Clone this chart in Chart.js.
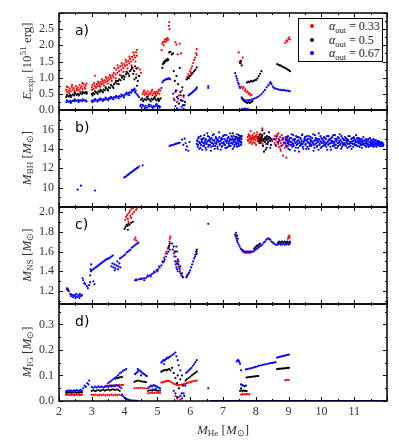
<!DOCTYPE html>
<html>
<head>
<meta charset="utf-8">
<script src="https://cdn.jsdelivr.net/npm/chart.js@4/dist/chart.umd.min.js"></script>
<style>
  body { margin: 0; background: #fff; }
  #wrap { position: relative; width: 399px; height: 446px; }
  #wrap canvas { position: absolute; left: 0; top: 0; }
  .txt { position: absolute; font-family: 'Liberation Serif', serif; color: #333; white-space: nowrap; line-height: 1; }
  .txt sub { font-size: 0.7em; vertical-align: -0.3em; line-height: 0; }
  .txt sup { font-size: 0.7em; vertical-align: 0.45em; line-height: 0; }
  .ytitle { font-size: 13px; transform: translate(-50%, -50%) rotate(-90deg); }
  .plabel { position: absolute; font-family: 'DejaVu Sans', sans-serif; font-size: 14px; color: #000; line-height: 1; }
  #legend { position: absolute; left: 298px; top: 18px; width: 83px; height: 42px; border: 1.5px solid #000; background: #fff; }
  .dot { position: absolute; width: 4px; height: 4px; border-radius: 50%; }
  .ltxt { position: absolute; font-size: 12px; color: #222; transform: translateY(-50%); }
</style>
</head>
<body>
<div id="wrap">
  <canvas id="chartA" width="399" height="446"></canvas>
  <canvas id="chartB" width="399" height="446"></canvas>
  <canvas id="chartC" width="399" height="446"></canvas>
  <canvas id="chartD" width="399" height="446"></canvas>
</div>
<script>
// ---- values ----
const seriesLabels = ['0.33', '0.5', '0.67'];
const seriesColors = ['#ff0000', '#000000', '#0000ff'];

const xTicks = [2, 3, 4, 5, 6, 7, 8, 9, 10, 11];
const aTicks = [0, 0.5, 1.0, 1.5, 2.0, 2.5];
const bTicks = [10, 12, 14, 16];
const cTicks = [1.2, 1.4, 1.6, 1.8, 2.0];
const dTicks = [0, 0.1, 0.2, 0.3];

// panel a) E_expl
const aRed = [
  [2.22,0.62],[2.25,0.55],[2.27,0.7],[2.3,0.6],[2.33,0.66],[2.36,0.58],[2.39,0.72],[2.42,0.63],[2.45,0.68],[2.48,0.6],[2.51,0.74],[2.54,0.66],[2.57,0.7],[2.6,0.63],[2.63,0.77],[2.66,0.68],[2.69,0.73],[2.72,0.65],[2.75,0.8],[2.78,0.7],[2.81,0.76],[2.84,0.82],
  [2.24,0.72],[2.31,0.52],[2.4,0.78],[2.47,0.55],[2.56,0.6],[2.64,0.58],[2.71,0.84],[2.8,0.66],
  [3.0,0.7],[3.02,0.78],[3.05,0.66],[3.08,0.75],[3.1,1.06],[3.12,0.72],[3.15,0.8],[3.18,0.74],[3.21,0.83],[3.24,0.78],[3.27,0.86],[3.3,0.8],[3.33,0.9],[3.36,0.84],[3.39,0.92],[3.42,0.86],[3.45,0.96],[3.48,0.9],[3.51,1.0],[3.54,0.94],[3.57,1.03],[3.6,0.98],[3.63,1.08],[3.66,1.02],[3.69,1.3],[3.72,1.1],[3.75,1.25],[3.78,1.15],[3.81,1.3],[3.84,1.2],[3.87,1.35],[3.9,1.25],[3.93,1.38],[3.96,1.3],[3.99,1.42],[4.02,1.36],[4.05,1.48],[4.08,1.4],[4.11,1.52],[4.14,1.45],[4.17,1.58],[4.2,1.5],[4.23,1.64],[4.26,1.56],[4.29,1.7],[4.32,1.62],[4.35,1.78],[4.38,1.86],[4.3,1.2],[4.36,1.1],[4.4,1.3],[4.44,1.05],[4.47,1.25],[4.5,1.15],
  [3.01,0.62],[3.07,0.83],[3.13,0.68],[3.19,0.88],[3.25,0.72],[3.31,0.95],[3.37,0.76],[3.43,1.02],[3.49,0.82],[3.55,1.08],[3.61,0.9],[3.67,1.15],[3.73,0.98],[3.79,1.38],[3.85,1.08],[3.91,1.45],[3.97,1.18],[4.03,1.55],[4.09,1.28],[4.15,1.65],[4.21,1.38],[4.27,1.78],[4.33,1.5],[4.37,1.68],
  [4.55,0.5],[4.58,0.56],[4.61,0.47],[4.64,0.53],[4.67,0.5],[4.7,0.58],[4.73,0.48],[4.76,0.54],[4.79,0.5],[4.82,0.57],[4.85,0.46],[4.88,0.52],[4.91,0.55],[4.94,0.49],[4.97,0.56],[5.0,0.52],[5.03,0.58],[5.06,0.5],[5.09,0.6],
  [4.6,0.6],[4.72,0.43],[4.84,0.62],[4.96,0.45],[5.05,0.63],
  [5.13,1.85],[5.15,2.05],[5.17,2.1],[5.19,2.0],[5.21,2.12],[5.23,2.18],[5.25,2.1],[5.27,2.2],[5.29,2.15],[5.31,2.22],[5.33,2.17],[5.35,2.6],[5.36,2.72],[5.37,2.5],
  [5.55,2.1],[5.58,2.02],[5.62,1.72],[5.5,0.35],[5.55,0.55],[5.6,0.25],[5.65,0.45],[5.7,0.3],[5.75,0.6],[5.8,0.4],[5.72,1.75],[5.68,2.05],
  [5.88,0.95],[5.91,1.02],[5.94,1.1],[5.97,1.05],[6.0,1.2],[6.03,1.28],[6.06,1.35],[6.09,1.45],[6.12,1.55],[6.15,1.62],[6.18,1.75],[6.2,1.88],[6.2,1.7],[6.02,1.15],
  [7.48,1.78],[7.5,1.5],[7.6,1.62],[7.55,1.45],[7.57,0.72],[7.6,0.66],[7.63,0.7],[7.66,0.6],[7.69,0.64],[7.72,0.55],[7.75,0.58],[7.78,0.5],[7.81,0.52],[7.84,0.45],[7.87,0.47],
  [8.9,2.08],[8.93,2.15],[8.96,2.12],[8.99,2.2],[9.02,2.25],[9.04,2.18]
];
const aBlack = [
  [2.22,0.4],[2.26,0.44],[2.3,0.42],[2.34,0.46],[2.38,0.44],[2.42,0.48],[2.46,0.45],[2.5,0.5],[2.54,0.47],[2.58,0.5],[2.62,0.48],[2.66,0.52],[2.7,0.5],[2.74,0.54],[2.78,0.52],[2.82,0.56],[2.85,0.54],
  [2.24,0.47],[2.36,0.4],[2.48,0.53],[2.6,0.45],[2.72,0.57],[2.84,0.5],
  [3.0,0.5],[3.04,0.52],[3.08,0.49],[3.12,0.55],[3.16,0.53],[3.2,0.58],[3.24,0.56],[3.28,0.6],[3.32,0.58],[3.36,0.63],[3.4,0.61],[3.44,0.67],[3.48,0.64],[3.52,0.7],[3.56,0.68],[3.6,0.75],[3.64,0.72],[3.68,0.8],[3.72,0.85],[3.76,0.82],[3.8,0.9],[3.84,0.95],[3.88,0.92],[3.92,1.0],[3.96,1.05],[4.0,1.02],[4.04,1.1],[4.08,1.15],[4.12,1.12],[4.16,1.2],[4.2,1.25],[4.24,1.3],[4.28,1.22],[4.32,1.35],[4.36,1.28],[4.3,0.95],[4.35,1.0],[4.4,0.9],[4.44,1.05],[4.38,0.75],
  [3.02,0.45],[3.1,0.58],[3.18,0.5],[3.26,0.63],[3.34,0.55],[3.42,0.7],[3.5,0.6],[3.58,0.78],[3.66,0.68],[3.74,0.9],[3.82,0.8],[3.9,1.06],[3.98,0.95],[4.06,1.18],[4.14,1.05],[4.22,1.32],[4.26,1.12],
  [4.5,0.32],[4.54,0.36],[4.58,0.3],[4.62,0.34],[4.66,0.31],[4.7,0.36],[4.74,0.33],[4.78,0.3],[4.82,0.35],[4.86,0.32],[4.9,0.37],[4.94,0.33],[4.98,0.3],[5.02,0.35],[5.06,0.32],[5.1,0.36],
  [4.56,0.27],[4.68,0.4],[4.8,0.27],[4.92,0.4],[5.04,0.28],
  [5.15,1.3],[5.17,1.42],[5.19,1.48],[5.21,1.45],[5.23,1.52],[5.25,1.5],[5.27,1.55],[5.29,1.52],[5.31,1.58],[5.33,1.55],[5.36,1.78],[5.4,1.8],[5.44,1.72],[5.48,1.75],
  [5.5,1.2],[5.53,0.9],[5.56,0.6],[5.58,1.05],[5.6,0.4],[5.63,0.8],[5.66,0.2],[5.68,1.3],[5.7,0.55],[5.73,0.3],[5.76,0.7],[5.78,0.15],[5.8,0.45],[5.84,0.25],
  [5.9,0.95],[5.93,1.0],[5.96,0.98],[6.0,1.05],[6.04,1.1],[6.08,1.15],[6.12,1.2],[6.16,1.25],[6.2,1.32],
  [7.52,1.45],[7.55,1.52],[7.57,1.38],
  [7.58,0.35],[7.62,0.3],[7.66,0.26],[7.7,0.24],[7.74,0.22],[7.78,0.24],[7.82,0.22],[7.86,0.25],[7.9,0.27],
  [7.73,0.85],[7.77,0.88],[7.81,0.86],[7.85,0.9],[7.89,0.88],[7.93,0.9],[7.97,0.92],[8.01,0.93],[8.05,0.98],[8.09,1.05],[8.13,1.12],[8.17,1.2],
  [8.65,1.42],[8.69,1.4],[8.73,1.38],[8.77,1.37],[8.81,1.34],[8.85,1.32],[8.89,1.3],[8.93,1.28],[8.97,1.25],[9.01,1.23],[9.04,1.2]
];
const aBlue = [
  [2.22,0.24],[2.26,0.27],[2.3,0.25],[2.34,0.28],[2.38,0.26],[2.42,0.29],[2.46,0.27],[2.5,0.3],[2.54,0.28],[2.58,0.31],[2.62,0.29],[2.66,0.3],[2.7,0.27],[2.74,0.31],[2.78,0.29],[2.82,0.3],
  [2.24,0.3],[2.36,0.22],[2.48,0.33],[2.6,0.25],[2.72,0.33],[2.84,0.26],
  [3.0,0.28],[3.04,0.3],[3.08,0.27],[3.12,0.31],[3.16,0.29],[3.2,0.32],[3.24,0.3],[3.28,0.33],[3.32,0.31],[3.36,0.34],[3.4,0.32],[3.44,0.35],[3.48,0.33],[3.52,0.37],[3.56,0.35],[3.6,0.38],[3.64,0.36],[3.68,0.4],[3.72,0.38],[3.76,0.41],[3.8,0.4],[3.84,0.43],[3.88,0.41],[3.92,0.45],[3.96,0.43],[4.0,0.47],[4.04,0.5],[4.08,0.48],[4.12,0.52],[4.16,0.55],[4.2,0.53],[4.24,0.58],[4.28,0.62],[4.32,0.55],[4.36,0.5],[4.4,0.45],[4.44,0.4],
  [3.02,0.24],[3.1,0.34],[3.18,0.26],[3.26,0.36],[3.34,0.28],[3.42,0.38],[3.5,0.3],[3.58,0.41],[3.66,0.33],[3.74,0.44],[3.82,0.36],[3.9,0.48],[3.98,0.39],[4.06,0.54],[4.14,0.46],[4.22,0.62],[4.3,0.66],[4.34,0.6],
  [4.48,0.12],[4.52,0.08],[4.56,0.15],[4.6,0.1],[4.64,0.13],[4.68,0.07],[4.72,0.12],[4.76,0.1],[4.8,0.14],[4.84,0.09],[4.88,0.12],[4.92,0.1],[4.96,0.15],[5.0,0.11],[5.04,0.13],[5.08,0.1],
  [4.5,0.17],[4.62,0.05],[4.74,0.17],[4.86,0.06],[4.98,0.18],[5.06,0.07],
  [5.12,0.68],[5.15,0.85],[5.18,0.9],[5.21,0.92],[5.24,0.94],[5.27,0.95],[5.3,0.96],[5.33,0.97],[5.36,0.98],[5.39,0.95],
  [5.48,0.5],[5.52,0.3],[5.55,0.12],[5.58,0.6],[5.6,0.05],[5.63,0.35],[5.66,0.2],[5.68,0.02],[5.71,0.45],[5.74,0.1],[5.77,0.28],[5.8,0.04],[5.83,0.15],
  [5.95,0.45],[5.98,0.48],[6.01,0.5],[6.04,0.52],[6.07,0.55],[6.1,0.58],[6.13,0.6],[6.16,0.63],[6.19,0.66],[6.2,0.7],
  [6.55,0.74],[6.55,0.68],
  [7.37,1.14],[7.4,1.05],[7.42,0.98],[7.44,0.92],[7.46,0.85],[7.48,0.8],[7.5,0.72],[7.52,0.68],
  [7.58,0.03],[7.62,0.02],[7.66,0.04],[7.7,0.02],[7.74,0.03],[7.78,0.02],
  [7.57,0.39],[7.62,0.34],[7.67,0.3],[7.72,0.29],[7.77,0.3],[7.82,0.31],[7.87,0.32],[7.92,0.34],[7.97,0.36],[8.02,0.38],[8.07,0.41],[8.12,0.45],[8.18,0.5],[8.23,0.56],[8.28,0.62],[8.33,0.7],[8.38,0.76],[8.42,0.82],[8.45,0.86],[8.48,0.8],[8.52,0.72],[8.56,0.68],[8.6,0.66],[8.65,0.65],[8.7,0.63],[8.75,0.62],[8.8,0.61],[8.85,0.62],[8.9,0.6],[8.95,0.6],[9.0,0.59],[9.04,0.58]
];

// panel b) M_BH
const bRed = [
  [4.45,12.2],[5.37,14.3],
  [7.75,15.2],[7.77,14.8],[7.78,15.5],[7.8,15.0],[7.81,14.6],[7.83,15.3],[7.84,15.8],[7.86,14.9],[7.87,15.1],[7.89,14.5],[7.9,15.4],[7.92,15.0],[7.93,14.7],[7.95,15.6],[7.96,15.2],[7.98,14.9],[7.99,15.3],[8.01,14.4],[8.02,15.1],[8.04,15.7],[8.05,14.8],[8.07,15.2],[8.08,15.0],[8.1,14.6],[8.11,15.4],[8.13,15.1],[8.14,14.9],[8.16,15.5],[8.17,14.7],[8.19,15.2],[8.2,16.1],[8.22,15.0],[8.24,14.8],[7.82,15.1],[7.88,14.95],[7.94,15.05],[8.0,15.25],[8.06,14.95],[8.12,15.15],
  [7.76,14.9],[7.79,15.35],[7.85,14.7],[7.91,15.2],[7.97,14.6],[8.03,15.45],[8.09,14.8],[8.15,15.3],[8.21,14.5],
  [8.55,15.0],[8.57,14.6],[8.58,15.3],[8.6,14.9],[8.62,14.3],[8.63,15.1],[8.65,14.7],[8.66,15.5],[8.68,14.5],[8.7,15.0],[8.71,14.2],[8.73,14.8],[8.74,15.2],[8.76,13.8],[8.77,14.6],[8.79,15.4],[8.8,14.9],[8.82,14.4],[8.83,13.3],[8.85,15.0],[8.86,14.7],[8.88,14.1],[8.9,15.2],[8.91,14.5],[8.93,13.1],[8.95,14.8],[8.96,15.0],[8.98,14.3],[9.0,14.7],[8.69,15.6],[8.75,14.0]
];
const bBlack = [
  [7.3,15.6],[7.35,15.0],[7.4,14.6],[7.42,15.2],[7.45,14.8],[7.48,15.4],[7.5,14.9],[7.52,15.1],[7.55,14.7],[7.57,15.3],
  [8.08,15.2],[8.1,14.8],[8.12,15.5],[8.14,14.6],[8.16,15.1],[8.18,14.9],[8.2,15.4],[8.22,14.3],[8.24,15.0],[8.26,15.6],[8.28,14.7],[8.29,15.2],[8.3,13.9],[8.32,14.9],[8.34,15.3],[8.36,14.5],[8.38,15.0],[8.4,15.7],[8.42,14.8],[8.44,15.1],[8.46,14.4],[8.48,15.0],[8.25,13.7],[8.33,14.1],[8.2,15.9],[8.27,15.0],[8.35,14.95],
  [8.11,15.0],[8.15,14.75],[8.19,15.25],[8.23,14.85],[8.31,15.1],[8.37,14.7],[8.41,15.2],[8.45,14.9]
];
const bBlue = [
  [2.57,9.8],[2.67,10.2],[3.1,9.7],
  [3.99,11.03],[4.02,11.12],[4.05,11.17],[4.08,11.27],[4.11,11.33],[4.14,11.43],[4.17,11.49],[4.2,11.58],[4.23,11.64],[4.26,11.73],[4.29,11.79],[4.32,11.88],[4.35,11.94],[4.38,12.03],[4.41,12.09],[4.55,12.3],
  [5.4,14.32],[5.44,14.38],[5.48,14.42],[5.52,14.46],[5.56,14.5],[5.6,14.55],[5.64,14.58],[5.68,14.62],
  [5.75,14.95],[5.79,14.4],[5.83,15.05],[5.87,13.9],[5.9,14.25],[5.94,13.8],[5.98,14.7],[5.86,14.6],
  [6.2,14.5],[6.22,14.9],[6.23,14.2],[6.25,15.1],[6.27,14.7],[6.28,14.0],[6.3,14.6],[6.32,15.3],[6.33,14.4],[6.35,14.8],[6.37,13.9],[6.38,15.0],[6.4,14.6],[6.42,14.3],[6.43,15.4],[6.45,14.7],[6.47,14.1],[6.48,15.0],[6.5,14.5],[6.52,15.6],[6.53,14.8],[6.55,14.2],[6.57,14.9],[6.58,15.2],[6.6,14.4],[6.62,14.7],[6.63,13.8],[6.65,15.1],[6.67,14.6],[6.68,14.9],[6.7,14.3],[6.72,15.5],[6.73,14.8],[6.75,14.0],[6.77,14.6],[6.78,15.2],[6.8,14.5],[6.82,14.9],[6.83,14.2],[6.85,15.0],[6.87,14.7],[6.88,15.7],[6.9,14.4],[6.92,14.8],[6.93,13.9],[6.95,15.1],[6.97,14.6],[6.98,14.3],[7.0,15.3],[7.02,14.7],[7.03,14.5],[7.05,15.0],[7.07,14.1],[7.08,14.8],[7.1,15.4],[7.12,14.6],[7.13,14.9],[7.15,14.2],[7.17,15.2],[7.18,14.5],[7.2,14.8],[7.22,15.6],[7.23,14.3],[7.25,14.9],[7.27,14.6],[7.28,15.1],[7.3,14.0],[7.32,14.7],[7.33,15.3],[7.35,14.4],[7.37,14.9],[7.38,15.0],[7.4,14.6],[7.42,15.5],[7.43,14.2],[7.45,14.8],[7.47,15.1],[7.48,14.5],[7.5,14.9],[7.52,15.3],[7.53,14.7],[7.55,14.4],[7.57,15.0],
  [6.21,14.8],[6.24,14.4],[6.26,15.2],[6.29,14.6],[6.31,14.1],[6.34,15.0],[6.36,14.7],[6.39,14.3],[6.41,15.1],[6.44,14.5],[6.46,14.9],[6.49,13.9],[6.51,14.7],[6.54,15.3],[6.56,14.4],[6.59,14.8],[6.61,15.0],[6.64,14.2],[6.66,14.6],[6.69,15.4],[6.71,14.5],[6.74,14.9],[6.76,14.3],[6.79,15.1],[6.81,14.7],[6.84,14.0],[6.86,14.8],[6.89,15.2],[6.91,14.5],[6.94,14.9],[6.96,14.2],[6.99,15.0],[7.01,14.6],[7.04,15.4],[7.06,14.4],[7.09,14.8],[7.11,14.1],[7.14,15.1],[7.16,14.7],[7.19,14.3],[7.21,15.0],[7.24,14.6],[7.26,15.3],[7.29,14.5],[7.31,14.9],[7.34,14.2],[7.36,14.7],[7.39,15.2],[7.41,14.4],[7.44,15.0],[7.46,14.6],[7.49,14.3],[7.51,14.8],[7.54,15.1],[7.56,14.6],
  [8.32,14.5],[8.38,15.2],[8.44,14.1],[8.5,14.8],[8.56,15.0],[8.6,14.4],[8.64,15.3],[8.68,14.7],[8.72,14.9],[8.78,14.3],[8.82,15.1],[8.86,14.6],
  [8.9,14.6],[8.92,15.0],[8.94,14.2],[8.96,14.8],[8.98,15.3],[9.0,14.5],[9.02,14.9],[9.04,13.9],[9.06,14.7],[9.08,15.1],[9.1,14.4],[9.12,14.6],[9.14,15.4],[9.16,14.3],[9.18,14.8],[9.2,15.0],[9.22,14.1],[9.24,14.7],[9.26,15.2],[9.28,14.5],[9.3,14.9],[9.32,13.7],[9.34,14.6],[9.36,15.1],[9.38,14.4],[9.4,14.8],[9.42,15.5],[9.44,14.2],[9.46,14.7],[9.48,14.9],
  [9.5,15.2],[9.52,14.5],[9.54,14.0],[9.56,14.8],[9.58,15.0],[9.6,14.6],[9.62,15.3],[9.64,14.3],[9.66,14.7],[9.68,14.9],[9.7,14.4],[9.72,15.1],[9.74,14.6],[9.76,13.8],[9.78,14.8],[9.8,15.4],[9.82,14.5],[9.84,14.9],[9.86,14.2],[9.88,15.0],[9.9,14.7],[9.92,15.6],[9.94,14.4],[9.96,14.8],[9.98,14.1],[10.0,15.1],[10.02,14.6],[10.04,14.9],[10.06,14.3],[10.08,15.2],
  [10.1,14.7],[10.12,14.4],[10.14,15.0],[10.16,14.6],[10.18,13.9],[10.2,14.8],[10.22,15.3],[10.24,14.5],[10.26,14.9],[10.28,14.2],[10.3,15.1],[10.32,14.6],[10.34,14.8],[10.36,15.4],[10.38,14.3],[10.4,14.7],[10.42,15.0],[10.44,14.4],[10.46,14.9],[10.48,14.1],[10.5,15.2],[10.52,14.6],[10.54,14.8],[10.56,15.5],[10.58,14.5],[10.6,14.0],[10.62,14.7],[10.64,15.1],[10.66,14.4],[10.68,14.9],
  [10.7,14.6],[10.72,15.2],[10.74,14.3],[10.76,14.8],[10.78,15.0],[10.8,14.5],[10.82,14.9],[10.84,14.2],[10.86,15.3],[10.88,14.6],[10.9,14.7],[10.92,14.0],[10.94,15.1],[10.96,14.5],[10.98,14.8],[11.0,15.0],[11.02,14.4],[11.04,14.7],[11.06,15.4],[11.08,14.3],[11.1,14.9],[11.12,14.6],[11.14,15.1],[11.16,14.2],[11.18,14.8],[11.2,14.5],[11.22,15.0],[11.24,14.4],[11.26,14.7],[11.28,15.2],
  [11.3,14.5],[11.32,14.8],[11.34,14.3],[11.36,15.0],[11.38,14.6],[11.4,14.4],[11.42,14.9],[11.44,14.2],[11.46,14.7],[11.48,15.1],[11.5,14.5],[11.52,14.8],[11.54,14.3],[11.56,14.6],[11.58,15.0],[11.6,14.4],[11.62,14.7],[11.64,14.5],[11.66,14.9],[11.68,14.2],[11.7,14.6],[11.72,14.8],[11.74,14.4],[11.76,14.7],[11.78,14.5],[11.8,14.3],[11.82,14.6],[11.84,14.4],[11.86,14.5],[11.88,14.3],
  [8.91,14.9],[8.93,14.3],[8.95,15.2],[8.97,14.6],[8.99,14.0],[9.01,14.8],[9.03,15.1],[9.05,14.4],[9.07,14.7],[9.09,15.5],[9.11,14.2],[9.13,14.9],[9.15,14.5],[9.17,15.0],[9.19,13.8],[9.21,14.6],[9.23,15.3],[9.25,14.4],[9.27,14.8],[9.29,14.1],[9.31,15.2],[9.33,14.7],[9.35,14.3],[9.37,15.0],[9.39,14.6],[9.41,15.4],[9.43,14.5],[9.45,14.0],[9.47,14.8],[9.49,15.1],
  [9.51,14.4],[9.53,14.9],[9.55,15.3],[9.57,14.2],[9.59,14.7],[9.61,14.0],[9.63,15.0],[9.65,14.5],[9.67,15.2],[9.69,14.3],[9.71,14.8],[9.73,14.6],[9.75,15.5],[9.77,14.4],[9.79,14.1],[9.81,14.9],[9.83,15.1],[9.85,14.6],[9.87,14.3],[9.89,14.8],[9.91,13.9],[9.93,15.0],[9.95,14.5],[9.97,15.3],[9.99,14.7],[10.01,14.2],[10.03,15.0],[10.05,14.6],[10.07,14.8],[10.09,14.4],
  [10.11,15.1],[10.13,14.5],[10.15,14.2],[10.17,15.3],[10.19,14.7],[10.21,14.4],[10.23,14.9],[10.25,15.0],[10.27,14.6],[10.29,13.9],[10.31,14.8],[10.33,15.2],[10.35,14.3],[10.37,14.7],[10.39,14.5],[10.41,15.4],[10.43,14.1],[10.45,14.8],[10.47,15.0],[10.49,14.6],[10.51,14.3],[10.53,15.1],[10.55,14.7],[10.57,14.4],[10.59,14.9],[10.61,15.3],[10.63,14.2],[10.65,14.6],[10.67,15.0],[10.69,14.5],
  [10.71,14.9],[10.73,14.4],[10.75,15.1],[10.77,14.6],[10.79,14.1],[10.81,14.8],[10.83,15.3],[10.85,14.5],[10.87,14.7],[10.89,14.3],[10.91,15.0],[10.93,14.6],[10.95,14.8],[10.97,14.2],[10.99,15.2],[11.01,14.5],[11.03,14.9],[11.05,14.4],[11.07,14.7],[11.09,15.1],[11.11,14.3],[11.13,14.8],[11.15,14.6],[11.17,15.0],[11.19,14.4],[11.21,14.7],[11.23,14.1],[11.25,14.9],[11.27,14.5],[11.29,14.8],
  [11.31,14.4],[11.33,14.9],[11.35,14.6],[11.37,14.2],[11.39,14.8],[11.41,14.5],[11.43,15.0],[11.45,14.4],[11.47,14.7],[11.49,14.3],[11.51,14.9],[11.53,14.6],[11.55,14.4],[11.57,14.8],[11.59,14.2],[11.61,14.6],[11.63,14.9],[11.65,14.3],[11.67,14.7],[11.69,14.5],[11.71,14.4],[11.73,14.6],[11.75,14.8],[11.77,14.3],[11.79,14.6],[11.81,14.5],[11.83,14.7],[11.85,14.3],[11.87,14.6],[11.89,14.4]
];

// panel c) M_NS
const cRed = [
  [2.25,1.23],[2.28,1.22],
  [4.02,1.92],[4.05,1.95],[4.08,1.97],[4.1,1.93],[4.13,1.99],[4.16,2.01],[4.18,1.96],[4.21,2.03],[4.24,1.98],[4.26,2.04],[4.29,2.0],[4.32,2.05],[4.35,2.02],[4.38,2.04],[4.12,1.9],[4.2,1.94],
  [4.3,1.72],[4.33,1.74],[4.36,1.71],
  [4.35,1.32],[4.5,1.33],[4.7,1.36],[4.9,1.4],[5.05,1.45],[5.15,1.5],[5.2,1.54],[5.25,1.58],[5.28,1.6],[5.32,1.63],[5.35,1.65],[5.37,1.7],[5.38,1.73],[5.4,1.75],
  [5.52,1.6],[5.56,1.55],[5.6,1.5],[5.65,1.45],[5.7,1.42],[5.62,1.4],
  [6.15,1.57],[6.2,1.6],[5.9,1.36],[5.95,1.38],
  [7.6,1.6],[7.65,1.59],[7.7,1.585],[7.75,1.59],[7.8,1.585],[7.85,1.59],[7.62,1.61],
  [8.98,1.73],[9.0,1.75],[9.02,1.76],[9.03,1.74]
];
const cBlack = [
  [4.0,1.83],[4.03,1.85],[4.06,1.87],[4.09,1.86],[4.12,1.88],[4.15,1.87],[4.2,1.89],[4.25,1.9],[4.1,1.82],
  [5.36,1.66],[5.38,1.68],[5.34,1.64],
  [5.5,1.65],[5.55,1.6],[5.6,1.48],[5.64,1.5],[5.7,1.45],[5.75,1.38],
  [6.18,1.6],[6.2,1.62],[7.42,1.76],[7.45,1.73],
  [7.95,1.63],[7.98,1.64],[8.01,1.65],[8.04,1.66],[8.07,1.66],[8.1,1.67],[8.13,1.68],
  [8.68,1.69],[8.72,1.7],[8.76,1.69],[8.8,1.7],[8.84,1.69],[8.88,1.7],[8.92,1.69],[8.96,1.7],[9.0,1.69],[9.04,1.7]
];
const cBlue = [
  [2.24,1.22],[2.27,1.21],[2.3,1.2],
  [2.34,1.17],[2.37,1.15],[2.4,1.16],[2.43,1.14],[2.46,1.16],[2.49,1.15],[2.52,1.17],[2.55,1.14],[2.58,1.16],[2.61,1.15],[2.64,1.17],[2.67,1.15],[2.7,1.16],[2.36,1.17],[2.5,1.13],[2.62,1.13],
  [2.72,1.33],[2.74,1.31],[2.77,1.28],[2.8,1.27],[2.85,1.25],[2.88,1.23],[2.92,1.26],[2.95,1.36],[2.96,1.42],[2.98,1.47],[2.97,1.4],[3.05,1.3],[3.08,1.27],[2.95,1.29],
  [3.0,1.41],[3.04,1.42],[3.08,1.43],[3.12,1.44],[3.16,1.45],[3.2,1.46],[3.24,1.47],[3.28,1.48],[3.32,1.49],[3.36,1.5],[3.4,1.51],[3.44,1.52],[3.48,1.525],[3.52,1.53],[3.56,1.54],[3.6,1.55],[3.64,1.56],
  [3.6,1.45],[3.63,1.48],[3.66,1.44],[3.69,1.47],[3.72,1.43],[3.75,1.46],[3.78,1.5],[3.81,1.45],[3.84,1.48],[3.87,1.44],[3.7,1.41],[3.8,1.42],
  [3.86,1.53],[3.9,1.54],[3.94,1.55],[3.98,1.56],[4.02,1.57],[4.06,1.59],[4.1,1.6],[4.14,1.61],[4.18,1.62],[4.22,1.64],[4.26,1.65],[4.3,1.66],[4.34,1.67],[4.38,1.68],[4.42,1.69],
  [4.32,1.31],[4.37,1.31],[4.42,1.32],[4.47,1.32],[4.52,1.32],[4.57,1.33],[4.62,1.33],[4.67,1.34],[4.72,1.35],[4.77,1.36],[4.82,1.37],[4.87,1.38],[4.92,1.39],[4.97,1.41],[5.02,1.42],[5.07,1.44],[5.12,1.46],[5.17,1.49],[5.22,1.52],[5.26,1.55],[5.3,1.58],[5.34,1.6],[5.38,1.62],[4.6,1.31],[4.8,1.35],[5.0,1.4],[5.2,1.5],
  [5.45,1.68],[5.47,1.62],[5.5,1.58],[5.52,1.55],[5.54,1.5],[5.56,1.47],[5.58,1.44],[5.6,1.42],[5.62,1.52],[5.64,1.47],[5.66,1.43],[5.68,1.4],[5.7,1.38],[5.73,1.36],[5.76,1.35],[5.78,1.34],[5.58,1.65],[5.6,1.6],
  [5.88,1.34],[5.91,1.35],[5.94,1.37],[5.97,1.39],[6.0,1.41],[6.03,1.44],[6.06,1.47],[6.09,1.5],[6.12,1.53],[6.15,1.55],[6.18,1.57],[6.2,1.58],
  [6.55,1.88],
  [7.37,1.77],[7.39,1.75],[7.41,1.73],[7.43,1.71],[7.45,1.69],[7.48,1.67],[7.51,1.65],[7.54,1.63],[7.57,1.62],[7.6,1.61],[7.64,1.6],[7.68,1.6],[7.72,1.6],[7.76,1.6],[7.8,1.6],[7.84,1.6],[7.88,1.6],[7.92,1.6],[7.96,1.61],[8.0,1.62],[8.04,1.63],[8.08,1.64],[8.12,1.65],[8.16,1.66],[8.2,1.67],[8.24,1.69],[8.28,1.7],[8.32,1.72],[8.36,1.73],[8.4,1.73],[8.44,1.72],[8.48,1.7],[8.52,1.69],[8.56,1.68],[8.6,1.67],[8.64,1.67],[8.68,1.67],[8.72,1.68],[8.76,1.67],[8.8,1.67],[8.84,1.68],[8.88,1.67],[8.92,1.67],[8.96,1.68],[9.0,1.67],[9.04,1.68],[7.4,1.79],[7.42,1.76]
];

// panel d) M_IG
const dRed = [
  [2.22,0.024],[2.27,0.025],[2.32,0.023],[2.37,0.024],[2.42,0.025],[2.47,0.023],[2.52,0.024],[2.57,0.025],[2.62,0.023],[2.67,0.024],[2.7,0.025],
  [3.0,0.024],[3.06,0.023],[3.12,0.025],[3.18,0.022],[3.24,0.024],[3.3,0.023],[3.36,0.025],[3.42,0.022],[3.48,0.024],[3.54,0.023],[3.6,0.025],[3.66,0.022],[3.72,0.024],[3.78,0.023],[3.84,0.025],[3.9,0.022],
  [3.42,0.058],[3.48,0.06],[3.54,0.059],[3.6,0.061],[3.66,0.06],[3.72,0.062],[3.78,0.061],[3.84,0.063],[3.9,0.062],[3.95,0.063],
  [4.3,0.05],[4.36,0.051],[4.42,0.05],[4.48,0.052],[4.54,0.051],[4.6,0.05],[4.66,0.049],
  [4.72,0.03],[4.78,0.031],[4.84,0.032],[4.9,0.031],[4.96,0.033],[5.02,0.032],[5.08,0.031],
  [5.12,0.072],[5.16,0.074],[5.2,0.075],[5.24,0.077],[5.28,0.078],[5.32,0.079],[5.36,0.078],[5.4,0.076],[5.45,0.072],[5.5,0.068],[5.55,0.065],[5.6,0.063],[5.65,0.062],[5.7,0.063],[5.75,0.064],[5.8,0.066],[5.85,0.068],[5.9,0.07],[5.95,0.072],[6.0,0.074],[6.05,0.076],[6.1,0.078],[6.15,0.079],[6.2,0.08],
  [5.55,0.02],[5.6,0.01],[5.65,0.015],[5.7,0.005],
  [7.55,0.025],[7.6,0.026],[7.65,0.027],[7.7,0.026],[7.75,0.027],[7.8,0.026],
  [8.9,0.081],[8.95,0.083],[9.0,0.082]
];
const dBlack = [
  [2.22,0.032],[2.26,0.034],[2.3,0.033],[2.34,0.035],[2.38,0.032],[2.42,0.034],[2.46,0.033],[2.5,0.035],[2.54,0.032],[2.58,0.034],[2.62,0.033],[2.66,0.035],[2.7,0.034],
  [3.0,0.04],[3.05,0.042],[3.1,0.039],[3.15,0.041],[3.2,0.043],[3.25,0.04],[3.3,0.042],[3.35,0.044],[3.4,0.041],[3.45,0.043],[3.5,0.045],[3.55,0.042],[3.6,0.044],[3.65,0.046],[3.7,0.043],[3.75,0.045],[3.8,0.044],[3.85,0.04],
  [3.72,0.088],[3.76,0.09],[3.8,0.09],[3.84,0.092],[3.88,0.093],[3.92,0.094],
  [4.3,0.075],[4.35,0.078],[4.4,0.08],[4.45,0.079],[4.5,0.077],[4.55,0.076],[4.6,0.075],[4.65,0.074],
  [4.72,0.04],[4.78,0.042],[4.84,0.041],[4.9,0.043],[4.96,0.042],[5.02,0.04],[5.08,0.041],
  [5.12,0.115],[5.16,0.118],[5.2,0.12],[5.24,0.122],[5.28,0.12],[5.32,0.123],[5.36,0.125],[5.4,0.12],
  [5.45,0.13],[5.5,0.11],[5.55,0.09],[5.6,0.07],[5.62,0.1],[5.66,0.05],[5.7,0.085],[5.74,0.03],[5.78,0.06],[5.82,0.02],[5.86,0.08],
  [5.9,0.085],[5.95,0.09],[6.0,0.095],[6.05,0.1],[6.1,0.105],[6.15,0.11],[6.2,0.115],
  [7.52,0.04],[7.56,0.042],[7.6,0.038],[7.64,0.041],[7.68,0.04],[7.72,0.039],[7.55,0.05],
  [7.72,0.092],[7.76,0.093],[7.8,0.094],[7.84,0.094],[7.88,0.095],[7.92,0.096],[7.96,0.096],[8.0,0.097],[8.04,0.098],[8.08,0.098],
  [8.65,0.125],[8.69,0.126],[8.73,0.126],[8.77,0.127],[8.81,0.127],[8.85,0.128],[8.89,0.128],[8.93,0.129],[8.97,0.13],[9.01,0.13]
];
const dBlue = [
  [2.22,0.038],[2.26,0.04],[2.3,0.042],[2.34,0.039],[2.38,0.041],[2.42,0.038],[2.46,0.042],[2.5,0.04],[2.54,0.043],[2.58,0.039],[2.62,0.041],[2.66,0.044],[2.7,0.04],
  [2.74,0.05],[2.78,0.06],[2.82,0.055],[2.86,0.07],[2.9,0.065],[2.92,0.08],
  [3.0,0.055],[3.05,0.052],[3.1,0.056],[3.15,0.053],[3.2,0.057],[3.25,0.054],[3.3,0.056],[3.35,0.053],[3.4,0.055],[3.45,0.058],[3.5,0.055],[3.55,0.06],[3.6,0.057],[3.65,0.06],[3.7,0.058],[3.75,0.062],[3.8,0.06],[3.85,0.055],[3.9,0.05],
  [3.5,0.07],[3.55,0.075],[3.6,0.08],[3.65,0.085],[3.7,0.09],[3.75,0.095],[3.8,0.1],[3.85,0.108],[3.9,0.112],[3.95,0.118],[4.0,0.122],[4.05,0.125],
  [3.92,0.025],[3.96,0.018],[4.0,0.012],[4.05,0.008],[4.1,0.006],[4.15,0.004],[4.2,0.003],[4.25,0.002],[4.3,0.002],[4.35,0.001],[4.4,0.001],
  [4.32,0.105],[4.36,0.11],[4.4,0.115],[4.44,0.12],[4.48,0.118],[4.52,0.112],[4.56,0.108],[4.6,0.105],[4.64,0.1],[4.68,0.098],[4.4,0.125],[4.5,0.1],
  [4.72,0.05],[4.76,0.055],[4.8,0.06],[4.84,0.057],[4.88,0.062],[4.92,0.06],[4.96,0.058],[5.0,0.055],[5.04,0.052],[5.08,0.05],[4.85,0.045],[4.95,0.048],
  [5.12,0.15],[5.15,0.155],[5.18,0.16],[5.21,0.158],[5.24,0.162],[5.27,0.165],[5.3,0.17],[5.33,0.168],[5.36,0.172],[5.4,0.175],[5.2,0.145],
  [5.45,0.18],[5.5,0.185],[5.55,0.19],[5.58,0.175],[5.62,0.16],[5.65,0.14],[5.7,0.12],[5.75,0.1],[5.5,0.04],[5.55,0.03],[5.6,0.015],[5.65,0.05],[5.7,0.02],[5.75,0.01],[5.8,0.03],[5.85,0.06],
  [5.88,0.11],[5.92,0.115],[5.96,0.12],[6.0,0.125],[6.04,0.13],[6.08,0.138],[6.12,0.145],[6.16,0.152],[6.2,0.16],
  [6.55,0.05],
  [7.42,0.155],[7.45,0.16],[7.48,0.158],[7.5,0.152],[7.52,0.145],[7.55,0.12],
  [7.55,0.065],[7.58,0.062],[7.62,0.06],[7.66,0.058],[7.7,0.06],
  [7.7,0.124],[7.75,0.125],[7.8,0.127],[7.85,0.128],[7.9,0.13],[7.95,0.132],[8.0,0.134],[8.05,0.136],[8.1,0.138],[8.15,0.14],[8.2,0.141],[8.25,0.143],[8.3,0.144],[8.35,0.146],[8.4,0.147],[8.45,0.148],[8.5,0.149],[8.55,0.15],[8.6,0.152],
  [8.65,0.17],[8.69,0.171],[8.73,0.173],[8.77,0.174],[8.81,0.176],[8.85,0.177],[8.89,0.178],[8.93,0.18],[8.97,0.181],[9.01,0.182]
];
// thin blue run of points lying on zero beyond 6.6
const dBlueZero = [[6.6,0.002],[11.95,0.002]];

// ---- drawing ----
const frameTicks = {
  id: 'frameTicks',
  afterDraw(chart, args, opts) {
    const { ctx, chartArea: a, scales } = chart;
    const xs = scales.x, ys = scales.y;
    ctx.save();
    ctx.strokeStyle = '#000';
    ctx.lineWidth = 1;
    ctx.beginPath();
    for (let i = 0; i <= 20; i++) {
      const v = 2 + i * 0.5;
      const px = Math.round(xs.getPixelForValue(v)) + 0.5;
      const len = i % 2 === 0 ? 4 : 2;
      ctx.moveTo(px, a.bottom); ctx.lineTo(px, a.bottom - len);
      ctx.moveTo(px, a.top); ctx.lineTo(px, a.top + len);
    }
    const start = Math.ceil(ys.min / opts.minor - 1e-6);
    const end = Math.floor(ys.max / opts.minor + 1e-6);
    for (let k = start; k <= end; k++) {
      const v = k * opts.minor;
      const py = Math.round(ys.getPixelForValue(v)) + 0.5;
      const r = v / opts.major;
      const len = Math.abs(r - Math.round(r)) < 1e-6 ? 4 : 2;
      ctx.moveTo(a.left, py); ctx.lineTo(a.left + len, py);
      ctx.moveTo(a.right, py); ctx.lineTo(a.right - len, py);
    }
    ctx.stroke();
    ctx.lineWidth = 1.5;
    ctx.strokeRect(a.left, a.top, a.right - a.left, a.bottom - a.top);
    ctx.restore();
  }
};

function scatterSet(pts, i) {
  return {
    data: pts.map(p => ({ x: p[0], y: p[1] })),
    backgroundColor: seriesColors[i],
    pointRadius: 1.1,
    pointBorderWidth: 0,
    order: 3 - i
  };
}

const tickFont = { family: 'Liberation Serif', size: 12 };

function makePanel(id, p) {
  const datasets = [scatterSet(p.red, 0), scatterSet(p.black, 1), scatterSet(p.blue, 2)];
  if (p.extra) datasets.push(p.extra);
  new Chart(document.getElementById(id), {
    type: 'scatter',
    data: { datasets },
    options: {
      responsive: false,
      animation: false,
      events: [],
      layout: { padding: { top: p.top, bottom: p.bottom, left: 0, right: 12 } },
      plugins: {
        legend: { display: false },
        tooltip: { enabled: false },
        frameTicks: { major: p.major, minor: p.minor }
      },
      scales: {
        x: {
          type: 'linear', min: 2, max: 12,
          display: p.showX,
          afterFit: s => { s.height = p.showX ? 45 : 0; },
          afterBuildTicks: s => { s.ticks = xTicks.map(v => ({ value: v })); },
          grid: { display: false, drawTicks: false },
          border: { display: false },
          ticks: { font: tickFont, color: '#333', padding: 4, maxRotation: 0, autoSkip: false, callback: v => String(v) }
        },
        y: {
          type: 'linear', min: p.yMin, max: p.yMax,
          afterFit: s => { s.width = 59; },
          afterBuildTicks: s => { s.ticks = p.ticks.map(v => ({ value: v })); },
          grid: { display: false, drawTicks: false },
          border: { display: false },
          ticks: { font: tickFont, color: '#333', padding: 5, autoSkip: false, callback: p.fmt }
        }
      }
    },
    plugins: [frameTicks]
  });
}

makePanel('chartA', { red: aRed, black: aBlack, blue: aBlue, top: 13, bottom: 336, showX: false,
  yMin: 0, yMax: 3.0, ticks: aTicks, major: 0.5, minor: 0.25, fmt: v => v.toFixed(1) });
makePanel('chartB', { red: bRed, black: bBlack, blue: bBlue, top: 110, bottom: 239, showX: false,
  yMin: 8, yMax: 18, ticks: bTicks, major: 2, minor: 1, fmt: v => String(v) });
makePanel('chartC', { red: cRed, black: cBlack, blue: cBlue, top: 207, bottom: 142, showX: false,
  yMin: 1.07, yMax: 2.05, ticks: cTicks, major: 0.2, minor: 0.1, fmt: v => v.toFixed(1) });
makePanel('chartD', { red: dRed, black: dBlack, blue: dBlue, top: 304, bottom: 0, showX: true,
  yMin: 0, yMax: 0.38, ticks: dTicks, major: 0.1, minor: 0.05, fmt: v => v.toFixed(1),
  extra: { type: 'line', data: dBlueZero.map(p => ({ x: p[0], y: p[1] })), borderColor: seriesColors[2],
           borderWidth: 1.2, pointRadius: 0, showLine: true, order: 0 } });
</script>
<div class="txt ytitle" style="left:26px;top:61px;"><i>E</i><sub>expl</sub> [10<sup>51</sup> erg]</div>
<div class="txt ytitle" style="left:26px;top:158px;"><i>M</i><sub>BH</sub> [<i>M</i><sub>⊙</sub>]</div>
<div class="txt ytitle" style="left:26px;top:255px;"><i>M</i><sub>NS</sub> [<i>M</i><sub>⊙</sub>]</div>
<div class="txt ytitle" style="left:26px;top:352px;"><i>M</i><sub>IG</sub> [<i>M</i><sub>⊙</sub>]</div>
<div class="txt" style="left:223px;top:429px;font-size:13px;transform:translate(-50%,-50%);"><i>M</i><sub>He</sub> [<i>M</i><sub>⊙</sub>]</div>
<div class="plabel" style="left:75px;top:23px;">a)</div>
<div class="plabel" style="left:75px;top:120px;">b)</div>
<div class="plabel" style="left:75px;top:217px;">c)</div>
<div class="plabel" style="left:75px;top:314px;">d)</div>
<div id="legend">
  <span class="dot" style="left:11px;top:5px;background:#ff0000;"></span>
  <span class="txt ltxt" style="left:30px;top:7px;"><i>α</i><sub>out</sub> = 0.33</span>
  <span class="dot" style="left:11px;top:19px;background:#000000;"></span>
  <span class="txt ltxt" style="left:30px;top:21px;"><i>α</i><sub>out</sub> = 0.5</span>
  <span class="dot" style="left:11px;top:32px;background:#0000ff;"></span>
  <span class="txt ltxt" style="left:30px;top:34px;"><i>α</i><sub>out</sub> = 0.67</span>
</div>
</div>
</body>
</html>
